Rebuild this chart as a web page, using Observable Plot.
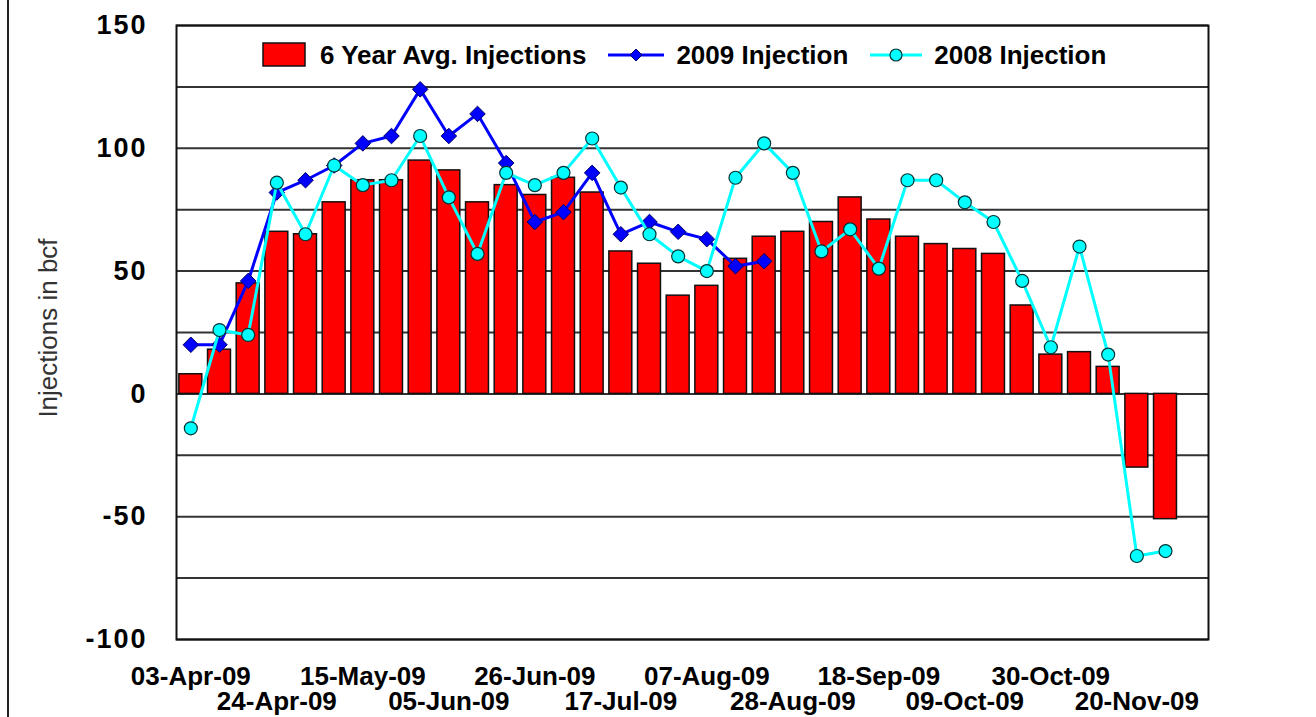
<!DOCTYPE html>
<html>
<head>
<meta charset="utf-8">
<script src="https://cdn.jsdelivr.net/npm/d3@7"></script>
<script src="https://cdn.jsdelivr.net/npm/@observablehq/plot@0.6"></script>
<style>
  html, body { margin: 0; padding: 0; background: #fff; }
  #wrap { position: relative; width: 1316px; height: 717px; overflow: hidden; font-family: "Liberation Sans", Arial, sans-serif; }
  #leftline { position: absolute; left: 7px; top: 0; width: 2px; height: 717px; background: #222; }
  #legend { position: absolute; top: 40px; left: 262px; height: 30px; display: flex; align-items: center; font-weight: bold; font-size: 26px; color: #000; white-space: nowrap; }
  #legend .item { display: flex; align-items: center; }
  #legend svg { display: block; }
  #ytitle { position: absolute; left: 48px; top: 328px; transform: translate(-50%, -50%) rotate(-90deg); font-size: 26px; color: #333; white-space: nowrap; }
  [aria-label="y-axis tick label"] text { letter-spacing: 2px; }
</style>
</head>
<body>
<div id="wrap">
  <div id="chart"></div>
  <div id="leftline"></div>
  <div id="legend"></div>
  <div id="ytitle"></div>
</div>
<script>
// 36 weekly slots on the category axis (the last one is empty)
const weeks = ["03-Apr-09","10-Apr-09","17-Apr-09","24-Apr-09","01-May-09","08-May-09","15-May-09","22-May-09","29-May-09","05-Jun-09","12-Jun-09","19-Jun-09","26-Jun-09","03-Jul-09","10-Jul-09","17-Jul-09","24-Jul-09","31-Jul-09","07-Aug-09","14-Aug-09","21-Aug-09","28-Aug-09","04-Sep-09","11-Sep-09","18-Sep-09","25-Sep-09","02-Oct-09","09-Oct-09","16-Oct-09","23-Oct-09","30-Oct-09","06-Nov-09","13-Nov-09","20-Nov-09","27-Nov-09","04-Dec-09"];
const avg6 = [8,18,45,66,65,78,87,87,95,91,78,85,81,88,82,58,53,40,44,55,64,66,70,80,71,64,61,59,57,36,16,17,11,-30,-51];
const inj2009 = [20,20,46,82,87,93,102,105,124,105,114,94,70,74,90,65,70,66,63,52,54];
const inj2008 = [-14,26,24,86,65,93,85,87,105,80,57,90,85,90,104,84,65,56,50,88,102,90,58,67,51,87,87,78,70,46,19,60,16,-66,-64];
const xTicksRow1 = ["03-Apr-09","15-May-09","26-Jun-09","07-Aug-09","18-Sep-09","30-Oct-09"];
const xTicksRow2 = ["24-Apr-09","05-Jun-09","17-Jul-09","28-Aug-09","09-Oct-09","20-Nov-09"];
const yTicks = [-100,-50,0,50,100,150];
const yGrid = [-100,-75,-50,-25,0,25,50,75,100,125,150];
const seriesNames = ["6 Year Avg. Injections","2009 Injection","2008 Injection"];
const yTitle = "Injections in bcf";

const barData = avg6.map((v,i) => ({week: weeks[i], value: v}));
const d2009 = inj2009.map((v,i) => ({week: weeks[i], value: v}));
const d2008 = inj2008.map((v,i) => ({week: weeks[i], value: v}));

const tickFont = {fontFamily: "Liberation Sans, Arial, sans-serif", fontWeight: "bold", fontSize: 26};

const chart = Plot.plot({
  width: 1316,
  height: 717,
  marginLeft: 176,
  marginRight: 108,
  marginTop: 25,
  marginBottom: 78,
  style: {fontFamily: "Liberation Sans, Arial, sans-serif", background: "#fff", overflow: "visible"},
  x: {type: "band", domain: weeks, paddingInner: 0.2, paddingOuter: 0.1, round: false, axis: null},
  y: {domain: [-100,150], axis: null},
  marks: [
    Plot.ruleY(yGrid, {stroke: "#333", strokeWidth: 2}),
    Plot.barY(barData, {x: "week", y: "value", fill: "#ff0000", stroke: "#111", strokeWidth: 1.5}),
    Plot.line(d2009, {x: "week", y: "value", stroke: "#0000ff", strokeWidth: 3}),
    Plot.dot(d2009, {x: "week", y: "value", symbol: "diamond2", r: 7, fill: "#0000ff", stroke: "#000066", strokeWidth: 1}),
    Plot.line(d2008, {x: "week", y: "value", stroke: "#00ffff", strokeWidth: 3}),
    Plot.dot(d2008, {x: "week", y: "value", r: 6.5, fill: "#00ffff", stroke: "#003333", strokeWidth: 1.2}),
    Plot.frame({stroke: "#111", strokeWidth: 2}),
    Plot.axisY(yTicks, {tickSize: 0, tickPadding: 29, ...tickFont, fontSize: 27, fill: "#000", label: null, tickFormat: d => String(d)}),
    Plot.axisX(xTicksRow1, {tickSize: 0, tickPadding: 27, ...tickFont, fill: "#000", label: null}),
    Plot.axisX(xTicksRow2, {tickSize: 0, tickPadding: 52, ...tickFont, fill: "#000", label: null})
  ]
});
document.getElementById("chart").appendChild(chart);
document.getElementById("ytitle").textContent = yTitle;

// legend
const legend = document.getElementById("legend");
function item(svgInner, w, label, gapAfter) {
  const div = document.createElement("div");
  div.className = "item";
  div.style.marginRight = gapAfter + "px";
  div.innerHTML = `<svg width="${w}" height="30">${svgInner}</svg><span style="margin-left:12px">${label}</span>`;
  legend.appendChild(div);
}
item(`<rect x="1" y="3" width="42" height="23" fill="#ff0000" stroke="#111" stroke-width="1.5"/>`, 46, seriesNames[0], 22);
item(`<line x1="0" y1="15" x2="56" y2="15" stroke="#0000ff" stroke-width="3"/><path d="M28,9 L34,15 L28,21 L22,15 Z" fill="#0000ff" stroke="#000066"/>`, 56, seriesNames[1], 22);
item(`<line x1="0" y1="15" x2="52" y2="15" stroke="#00ffff" stroke-width="3"/><circle cx="26" cy="15" r="6" fill="#00ffff" stroke="#003333" stroke-width="1.2"/>`, 52, seriesNames[2], 0);
</script>
</body>
</html>
